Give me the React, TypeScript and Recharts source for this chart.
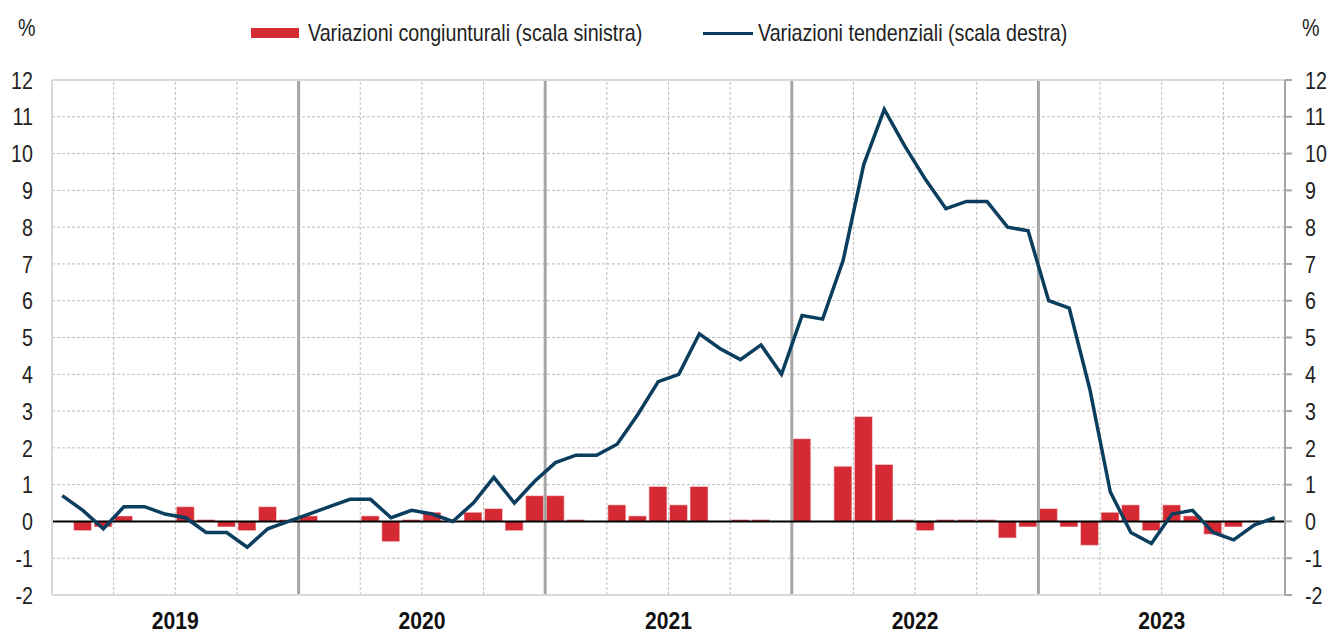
import {
  Bar,
  CartesianGrid,
  ComposedChart,
  Line,
  ReferenceLine,
  XAxis,
  YAxis,
} from "recharts";

const FONT = '"Liberation Sans", Arial, sans-serif';
// the original uses Arial Narrow: squeeze Liberation Sans horizontally instead
const NARROW = 0.82;

const years = ["2019", "2020", "2021", "2022", "2023"];

// variazioni congiunturali (%), mese per mese gen 2019 - dic 2023
const congiunturali = [
  0, -0.25, -0.15, 0.15, 0, 0, 0.4, 0.05, -0.15, -0.25, 0.4, 0.05,
  0.15, 0, 0, 0.15, -0.55, 0.05, 0.25, 0, 0.25, 0.35, -0.25, 0.7,
  0.7, 0.05, 0, 0.45, 0.15, 0.95, 0.45, 0.95, 0, 0.05, 0.05, 0,
  2.25, 0, 1.5, 2.85, 1.55, 0.05, -0.25, 0.05, 0.05, 0.05, -0.45, -0.15,
  0.35, -0.15, -0.65, 0.25, 0.45, -0.25, 0.45, 0.15, -0.35, -0.15, 0, 0,
];

// variazioni tendenziali (%)
const tendenziali = [
  0.7, 0.3, -0.2, 0.4, 0.4, 0.2, 0.1, -0.3, -0.3, -0.7, -0.2, 0.0,
  0.2, 0.4, 0.6, 0.6, 0.1, 0.3, 0.2, 0.0, 0.5, 1.2, 0.5, 1.1,
  1.6, 1.8, 1.8, 2.1, 2.9, 3.8, 4.0, 5.1, 4.7, 4.4, 4.8, 4.0,
  5.6, 5.5, 7.1, 9.7, 11.2, 10.2, 9.3, 8.5, 8.7, 8.7, 8.0, 7.9,
  6.0, 5.8, 3.6, 0.8, -0.3, -0.6, 0.2, 0.3, -0.3, -0.5, -0.1, 0.1,
];

const yTicks = [-2, -1, 0, 1, 2, 3, 4, 5, 6, 7, 8, 9, 10, 11, 12];
const yearTicks = [6, 18, 30, 42, 54];
const yearBreaks = [12, 24, 36, 48];
const quarterBreaks = [3, 6, 9, 15, 18, 21, 27, 30, 33, 39, 42, 45, 51, 54, 57];

const RED = "#d52a33";
const BLUE = "#0b3d5e";

const data = tendenziali.map((t, i) => ({
  x: i + 0.5,
  cong: congiunturali[i] === 0 ? null : congiunturali[i],
  tend: t,
}));

function NarrowTick(props: any) {
  const { x, y, payload, anchor, bold, scale, dy, format } = props;
  const label = format ? format(payload.value) : payload.value;
  return (
    <g transform={`translate(${x},${y})`}>
      <text
        transform={`scale(${scale ?? NARROW},1)`}
        textAnchor={anchor}
        dy={dy ?? "0.36em"}
        fill={bold ? "#111" : "#222"}
        fontSize={24}
        fontWeight={bold ? 700 : 400}
        fontFamily={FONT}
      >
        {label}
      </text>
    </g>
  );
}

const squeeze = {
  position: "absolute" as const,
  fontSize: 24,
  whiteSpace: "nowrap" as const,
  transform: `scaleX(${NARROW})`,
  transformOrigin: "left center",
  lineHeight: "28px",
};

export default function App() {
  return (
    <div
      style={{
        position: "absolute",
        left: 0,
        top: 0,
        width: 1329,
        height: 633,
        background: "#fff",
        fontFamily: FONT,
        color: "#222",
      }}
    >
      <div style={{ ...squeeze, left: 18, top: 14 }}>%</div>
      <div style={{ ...squeeze, left: 1302, top: 14 }}>%</div>
      <div style={{ position: "absolute", left: 251, top: 28, width: 48, height: 10, background: RED }} />
      <div style={{ ...squeeze, left: 308, top: 19 }}>Variazioni congiunturali (scala sinistra)</div>
      <div style={{ position: "absolute", left: 703, top: 32, width: 50, height: 3, background: BLUE }} />
      <div style={{ ...squeeze, left: 758, top: 19 }}>Variazioni tendenziali (scala destra)</div>
      <ComposedChart
        width={1329}
        height={633}
        data={data}
        margin={{ top: 80, right: 0, bottom: 8, left: 12 }}
      >
        <CartesianGrid
          yAxisId="left"
          vertical={false}
          stroke="#bdbdbd"
          strokeDasharray="3 2"
        />
        <XAxis
          dataKey="x"
          type="number"
          domain={[0, 60]}
          ticks={yearTicks}
          height={30}
          tickLine={false}
          tickSize={0}
          tickMargin={17}
          axisLine={{ stroke: "#d9d9d9", strokeWidth: 2 }}
          tick={
            <NarrowTick
              anchor="middle"
              bold
              scale={0.88}
              dy="0.71em"
              format={(v: number) => years[Math.floor(v / 12)]}
            />
          }
        />
        <YAxis
          yAxisId="left"
          domain={[-2, 12]}
          ticks={yTicks}
          interval={0}
          width={40}
          tickLine={false}
          tickSize={0}
          tickMargin={19}
          axisLine={{ stroke: "#d9d9d9", strokeWidth: 2 }}
          tick={<NarrowTick anchor="end" />}
        />
        <YAxis
          yAxisId="right"
          orientation="right"
          domain={[-2, 12]}
          ticks={yTicks}
          interval={0}
          width={44}
          tickSize={7}
          tickMargin={13}
          tickLine={{ stroke: "#a6a6a6", strokeWidth: 2 }}
          axisLine={{ stroke: "#a6a6a6", strokeWidth: 2 }}
          tick={<NarrowTick anchor="start" />}
        />
        {quarterBreaks.map((q) => (
          <ReferenceLine
            key={`q${q}`}
            x={q}
            yAxisId="left"
            stroke="#bdbdbd"
            strokeDasharray="3 2"
          />
        ))}
        {yearBreaks.map((y) => (
          <ReferenceLine key={`y${y}`} x={y} yAxisId="left" stroke="#a6a6a6" strokeWidth={3} />
        ))}
        <ReferenceLine y={12} yAxisId="left" stroke="#d9d9d9" strokeWidth={2} />
        <Bar
          yAxisId="left"
          dataKey="cong"
          fill={RED}
          stroke="#fbe3e4"
          strokeWidth={0.6}
          barSize={18}
          isAnimationActive={false}
        />
        <ReferenceLine y={0} yAxisId="left" stroke="#000" strokeWidth={2} />
        <Line
          yAxisId="right"
          dataKey="tend"
          type="linear"
          stroke={BLUE}
          strokeWidth={3.5}
          dot={false}
          activeDot={false}
          isAnimationActive={false}
        />
      </ComposedChart>
    </div>
  );
}
